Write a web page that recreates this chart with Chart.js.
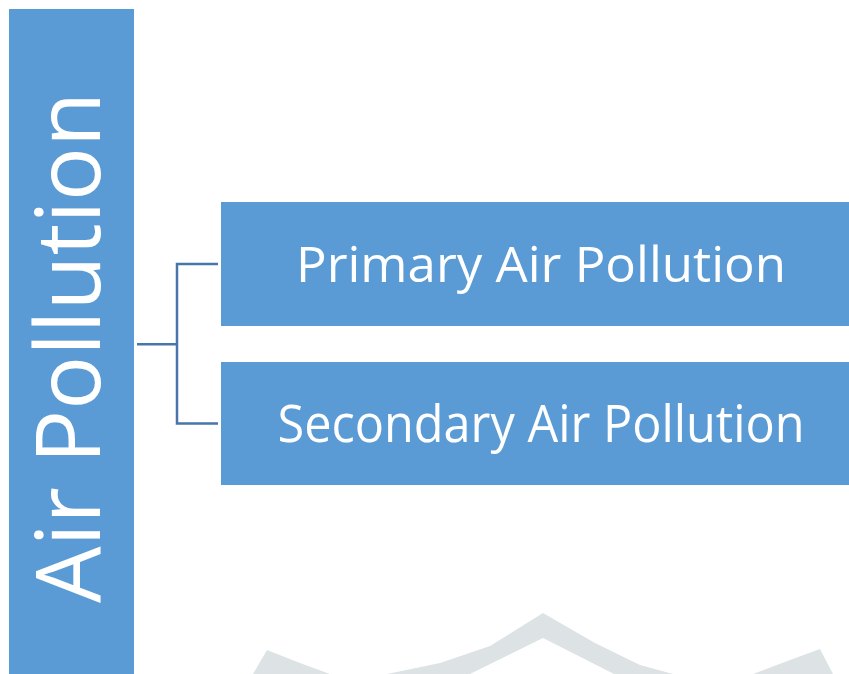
<!DOCTYPE html>
<html>
<head>
<meta charset="utf-8">
<script src="https://cdn.jsdelivr.net/npm/chart.js@4"></script>
<style>
  html, body { margin: 0; padding: 0; background: #fff; }
  #wrap { width: 849px; height: 674px; position: relative; }
</style>
</head>
<body>
<div id="wrap"><canvas id="diagram"></canvas></div>
<script>
// Node texts
const rootName = 'Air Pollution';
const childNames = ['Primary Air Pollution', 'Secondary Air Pollution'];

// Watermark outline
const lobeLeft = [{x: 253, y: 674}, {x: 267, y: 650}, {x: 300, y: 663}, {x: 330, y: 674}];
const lobeRight = [{x: 753, y: 674}, {x: 790, y: 660}, {x: 820, y: 649}, {x: 833, y: 674}];
const peakOuter = [{x: 387, y: 674}, {x: 440, y: 663}, {x: 490, y: 646}, {x: 543, y: 613}, {x: 595, y: 643}, {x: 640, y: 665}, {x: 673, y: 674}];
const peakInner = [{x: 387, y: 674}, {x: 470, y: 674}, {x: 543, y: 638}, {x: 614, y: 674}, {x: 673, y: 674}];

// Layout of boxes and connectors, in pixel units of the hidden axes
const rootBox = {x0: 9, x1: 134, y0: 9, y1: 686};
const childBoxes = [
    {x0: 221, x1: 861, y0: 202, y1: 326},
    {x0: 221, x1: 861, y0: 362, y1: 485}
];
const trunkX = 177;
const textFit = [
    {cap: 65, width: 511},
    {cap: 36, width: 490},
    {cap: 37, width: 527}
];

const boxColor = '#5B9BD5';
const lineColor = '#4676AA';
const markColor = 'rgb(221,227,229)';

function edge(x0, x1, y) {
    return [{x: x0, y: y}, {x: x1, y: y}];
}

// Build a filled rectangle as two lines filled between
function boxDatasets(b) {
    return [
        {data: edge(b.x0, b.x1, b.y0), fill: '+1', backgroundColor: boxColor, borderWidth: 0},
        {data: edge(b.x0, b.x1, b.y1), fill: false, borderWidth: 0}
    ];
}

const datasets = [];
// watermark
datasets.push({data: lobeLeft, fill: {value: 674}, backgroundColor: markColor, borderWidth: 0});
datasets.push({data: lobeRight, fill: {value: 674}, backgroundColor: markColor, borderWidth: 0});
datasets.push({data: peakOuter, fill: '+1', backgroundColor: markColor, borderWidth: 0});
datasets.push({data: peakInner, fill: false, borderWidth: 0});
// boxes
datasets.push(...boxDatasets(rootBox));
childBoxes.forEach(b => datasets.push(...boxDatasets(b)));
// connectors
const midY = (childBoxes[0].y0 + childBoxes[0].y1 + childBoxes[1].y0 + childBoxes[1].y1) / 4 + 0.5;
const topY = (childBoxes[0].y0 + childBoxes[0].y1) / 2;
const botY = (childBoxes[1].y0 + childBoxes[1].y1) / 2;
datasets.push({data: edge(rootBox.x1 + 3, trunkX, midY), fill: false, borderColor: lineColor, borderWidth: 2.5});
datasets.push({
    data: [{x: childBoxes[0].x0 - 3, y: topY}, {x: trunkX, y: topY}, {x: trunkX, y: botY}, {x: childBoxes[1].x0 - 3, y: botY}],
    fill: false, borderColor: lineColor, borderWidth: 2.5
});

// Text drawing plugin
const labelPlugin = {
    id: 'boxLabels',
    afterDatasetsDraw(chart) {
        const ctx = chart.ctx;
        const xs = chart.scales.x, ys = chart.scales.y;
        const family = '"Open Sans", "Noto Sans", sans-serif';

        ctx.save();
        ctx.font = '100px ' + family;
        const capRatio = ctx.measureText('H').actualBoundingBoxAscent / 100;
        ctx.restore();

        function drawText(text, cx, cy, fit, rotate) {
            const size = fit.cap / capRatio;
            ctx.save();
            ctx.font = size + 'px ' + family;
            ctx.fillStyle = '#ffffff';
            ctx.textAlign = 'center';
            ctx.textBaseline = 'alphabetic';
            const w = ctx.measureText(text).width;
            ctx.translate(cx, cy);
            if (rotate) ctx.rotate(-Math.PI / 2);
            ctx.scale(fit.width / w, 1);
            ctx.fillText(text, 0, fit.cap / 2);
            ctx.restore();
        }

        const rcx = xs.getPixelForValue((rootBox.x0 + rootBox.x1) / 2) - 4;
        const rcy = ys.getPixelForValue((rootBox.y0 + rootBox.y1) / 2);
        drawText(rootName, rcx, rcy, textFit[0], true);

        childNames.forEach((name, i) => {
            const b = childBoxes[i];
            const cx = xs.getPixelForValue((b.x0 + b.x1) / 2);
            const cy = ys.getPixelForValue((b.y0 + b.y1) / 2);
            drawText(name, cx, cy, textFit[i + 1], false);
        });
    }
};

new Chart(document.getElementById('diagram'), {
    type: 'scatter',
    data: {datasets: datasets},
    options: {
        responsive: true,
        maintainAspectRatio: false,
        animation: false,
        showLine: true,
        layout: {padding: 0},
        elements: {
            point: {radius: 0, hoverRadius: 0},
            line: {tension: 0, borderCapStyle: 'butt', borderJoinStyle: 'miter'}
        },
        plugins: {
            legend: {display: false},
            tooltip: {enabled: false},
            filler: {propagate: false}
        },
        events: [],
        scales: {
            x: {type: 'linear', min: 0, max: 849, display: false},
            y: {type: 'linear', min: 0, max: 674, reverse: true, display: false}
        }
    },
    plugins: [labelPlugin]
});
</script>
</body>
</html>
